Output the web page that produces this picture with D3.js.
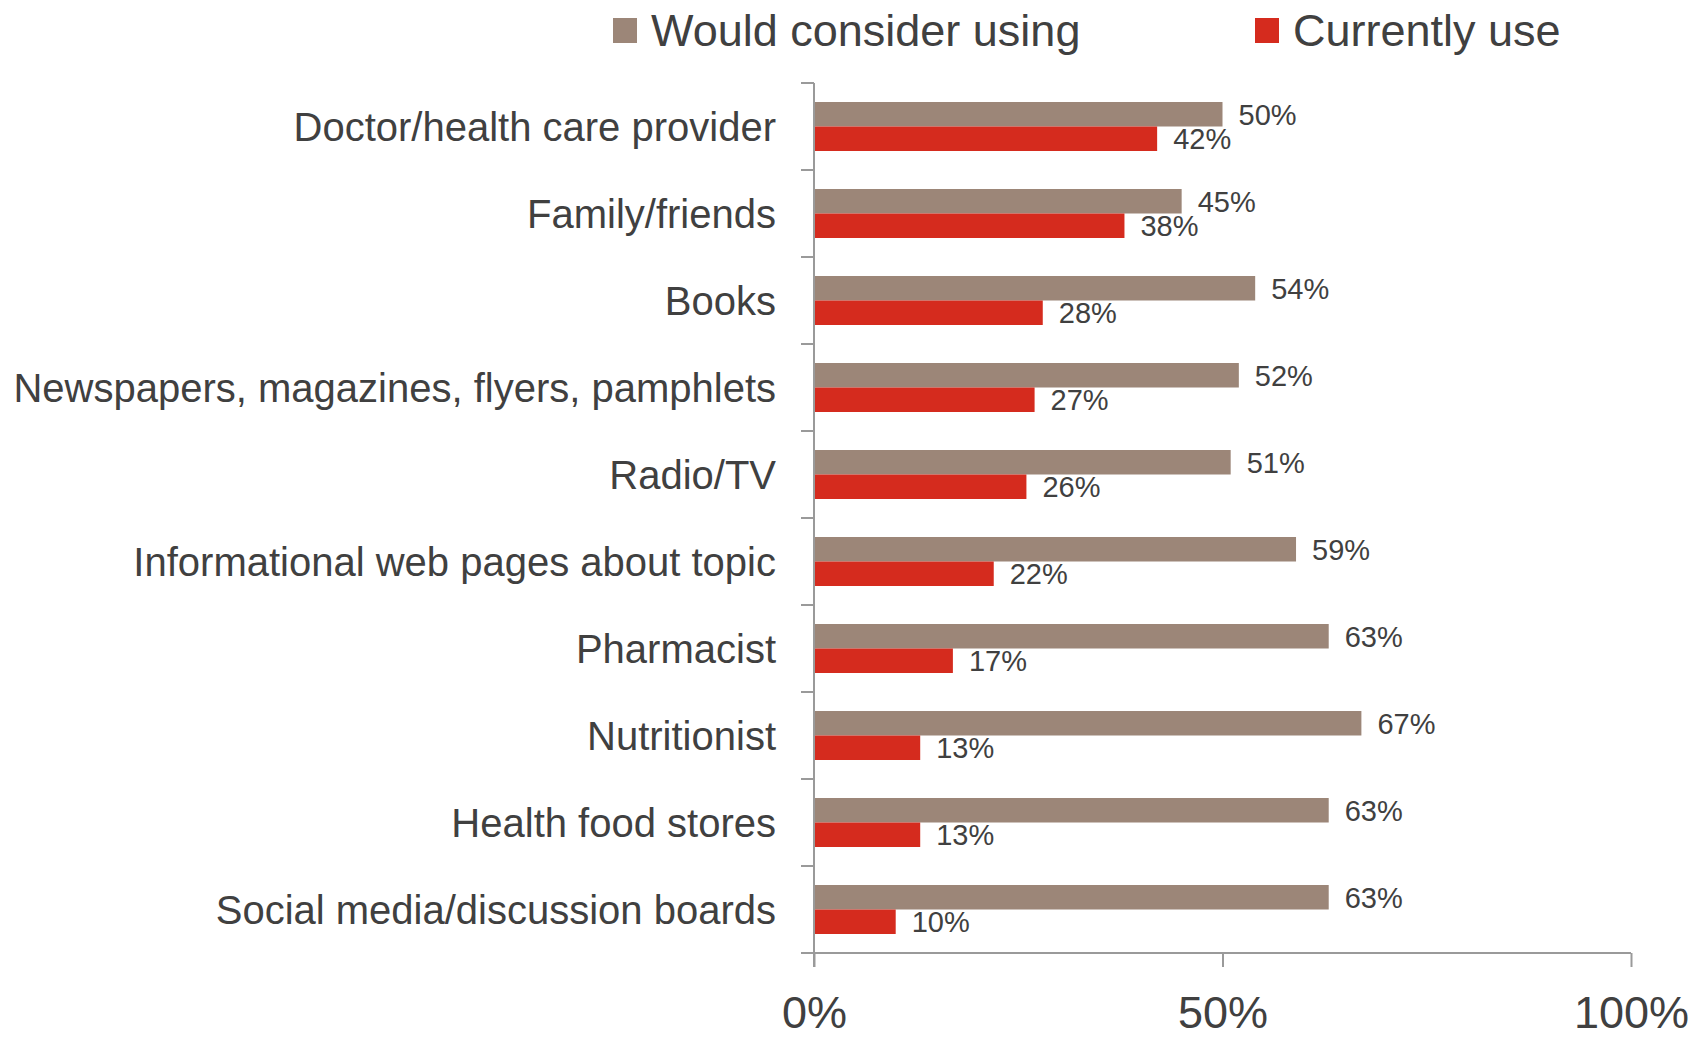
<!DOCTYPE html>
<html>
<head>
<meta charset="utf-8">
<script src="https://cdn.jsdelivr.net/npm/d3@7"></script>
<style>
  html, body { margin: 0; padding: 0; background: #fff; }
  svg { display: block; font-family: "Liberation Sans", Arial, sans-serif; }
</style>
</head>
<body>
<svg id="chart" width="1701" height="1037"></svg>
<script>
// Information sources, share of respondents
const categories = [
  "Doctor/health care provider",
  "Family/friends",
  "Books",
  "Newspapers, magazines, flyers, pamphlets",
  "Radio/TV",
  "Informational web pages about topic",
  "Pharmacist",
  "Nutritionist",
  "Health food stores",
  "Social media/discussion boards"
];
const seriesNames = ["Would consider using", "Currently use"];
const wouldConsider = [50, 45, 54, 52, 51, 59, 63, 67, 63, 63];
const currentlyUse  = [42, 38, 28, 27, 26, 22, 17, 13, 13, 10];
const xTicks = [0, 50, 100];
const colors = ["#9c8678", "#d52b1e"];

const textColor = "#404040";
const axisColor = "#9a9a9a";

const svg = d3.select("#chart");

const x = d3.scaleLinear().domain([0, 100]).range([814, 1631]);
const y = d3.scaleBand().domain(categories).range([83, 953]).padding(0);
const sub = d3.scaleBand().domain(seriesNames).range([0, y.bandwidth()])
  .paddingInner(0).paddingOuter(0.776);

const seriesValues = [wouldConsider, currentlyUse];

// Bars and value labels
seriesNames.forEach((name, si) => {
  const rows = categories.map((c, i) => ({ c, v: seriesValues[si][i] }));
  const g = svg.append("g");
  g.selectAll("rect").data(rows).join("rect")
    .attr("x", x(0))
    .attr("y", d => y(d.c) + sub(name))
    .attr("width", d => x(d.v) - x(0))
    .attr("height", sub.bandwidth())
    .attr("fill", colors[si]);
  g.selectAll("text").data(rows).join("text")
    .attr("x", d => x(d.v) + 16)
    .attr("y", d => y(d.c) + sub(name) + sub.bandwidth() / 2)
    .attr("dy", "0.36em")
    .attr("font-size", 29)
    .attr("fill", textColor)
    .text(d => d.v + "%");
});

// Vertical axis: line with ticks at band boundaries
const yAxis = svg.append("g");
yAxis.append("line")
  .attr("x1", x(0)).attr("x2", x(0))
  .attr("y1", y.range()[0]).attr("y2", y.range()[1] + 14)
  .attr("stroke", axisColor).attr("stroke-width", 2);
const boundaries = d3.range(categories.length + 1).map(i => y.range()[0] + i * y.step());
yAxis.selectAll("line.tick").data(boundaries).join("line")
  .attr("class", "tick")
  .attr("x1", x(0) - 13).attr("x2", x(0))
  .attr("y1", d => d).attr("y2", d => d)
  .attr("stroke", axisColor).attr("stroke-width", 2);

// Category labels
svg.append("g").selectAll("text").data(categories).join("text")
  .attr("x", 776)
  .attr("y", d => y(d) + y.bandwidth() / 2)
  .attr("dy", "0.36em")
  .attr("text-anchor", "end")
  .attr("font-size", 40)
  .attr("fill", textColor)
  .text(d => d);

// Horizontal axis
const xAxis = svg.append("g")
  .attr("transform", `translate(0,${y.range()[1]})`)
  .call(d3.axisBottom(x).tickValues(xTicks).tickSize(14).tickSizeOuter(0)
    .tickFormat(d => d + "%"));
xAxis.select(".domain").remove();
xAxis.insert("line", ":first-child")
  .attr("x1", x(0) - 13).attr("x2", x(100))
  .attr("y1", 0).attr("y2", 0)
  .attr("stroke", axisColor).attr("stroke-width", 2);
xAxis.selectAll(".tick line").attr("stroke", axisColor).attr("stroke-width", 2);
xAxis.selectAll(".tick text")
  .attr("font-size", 45)
  .attr("font-family", "'Liberation Sans', Arial, sans-serif")
  .attr("fill", textColor)
  .attr("y", 75)
  .attr("dy", 0);

// Legend
const legendX = [613, 1255];
const legend = svg.append("g");
seriesNames.forEach((name, i) => {
  legend.append("rect")
    .attr("x", legendX[i]).attr("y", 18)
    .attr("width", 24).attr("height", 25)
    .attr("fill", colors[i]);
  legend.append("text")
    .attr("x", legendX[i] + 38).attr("y", 46)
    .attr("font-size", 45)
    .attr("fill", textColor)
    .text(name);
});
</script>
</body>
</html>
